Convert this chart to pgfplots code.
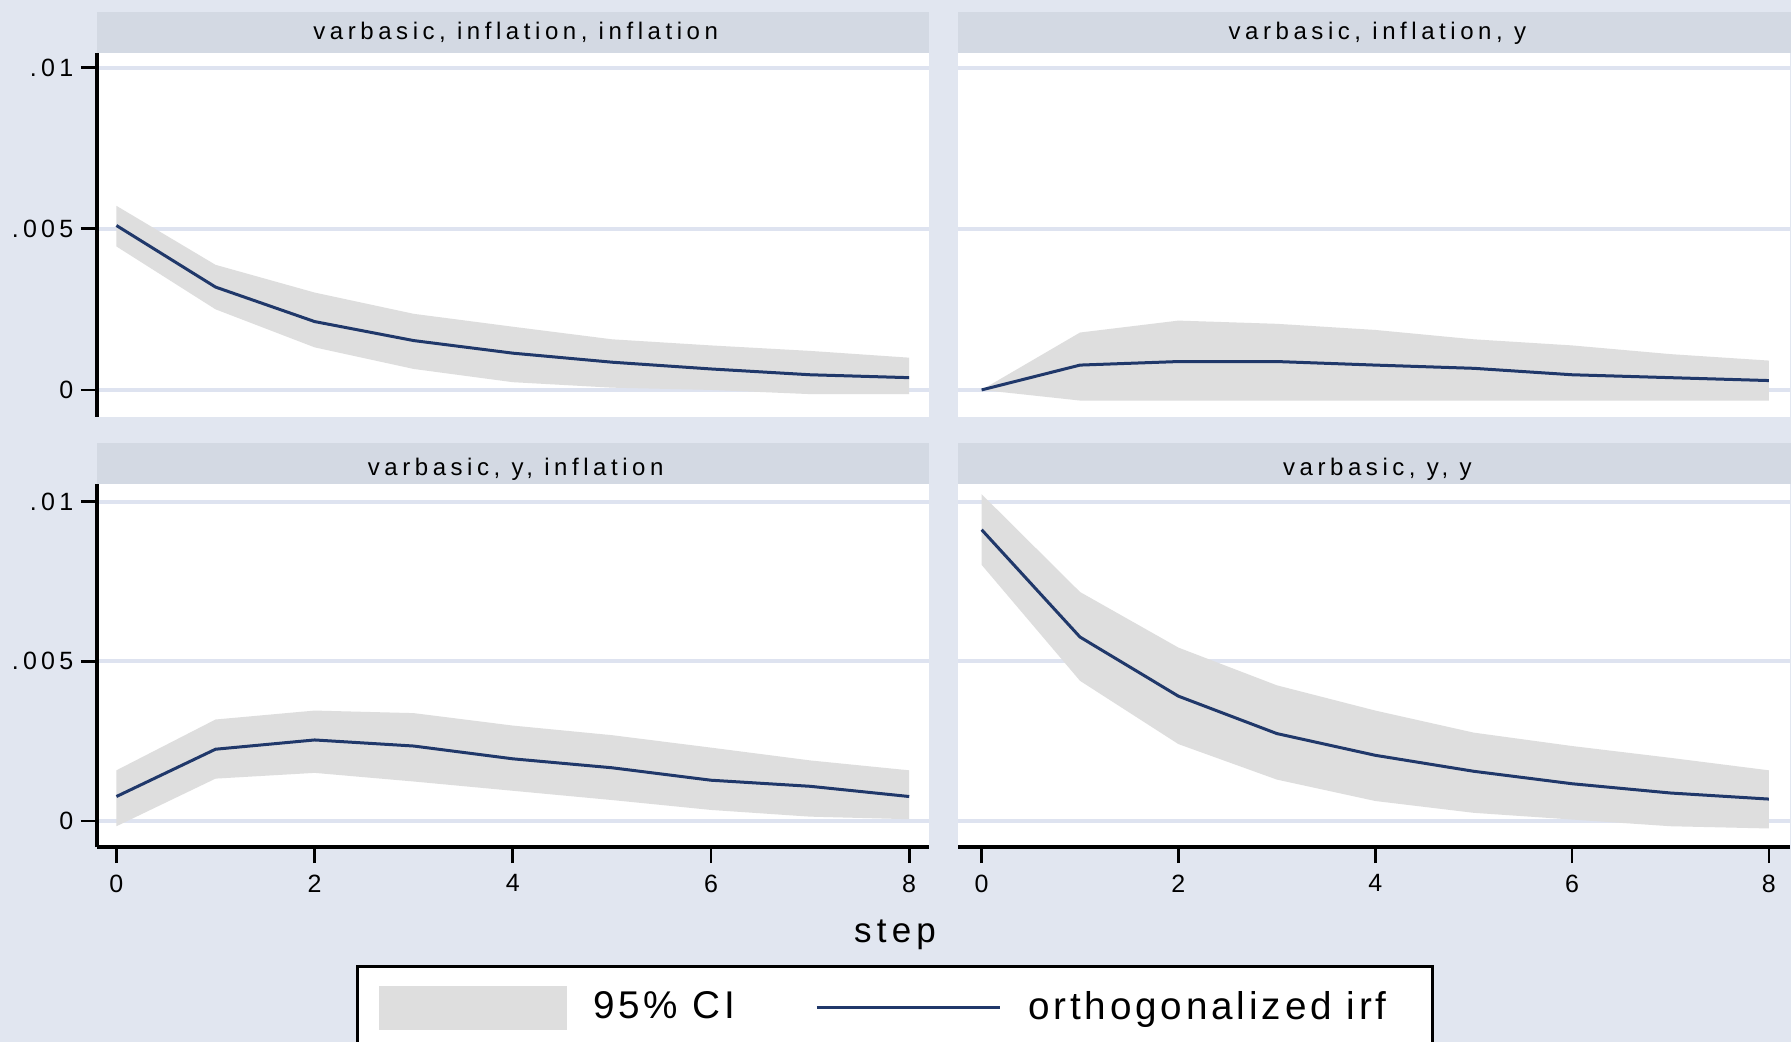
\documentclass[border=0pt]{standalone}
\usepackage{pgfplots}
\pgfplotsset{compat=1.18}
\usepackage{fontspec}
\setmainfont{Liberation Sans}
\newfontfamily\tickfont{Liberation Sans}[LetterSpace=17]
\newfontfamily\hdrfont{Liberation Sans}[LetterSpace=19]
\newfontfamily\stepfont{Liberation Sans}[LetterSpace=15]
\newfontfamily\legfont{Liberation Sans}[LetterSpace=10]
\definecolor{bgc}{RGB}{225,230,240}
\definecolor{hdrc}{RGB}{211,217,227}
\definecolor{gridc}{RGB}{222,227,240}
\definecolor{cic}{RGB}{222,222,222}
\definecolor{irfc}{RGB}{32,56,106}

\pgfplotsset{
  panel/.style={
    scale only axis, width=249.6pt,
    axis line style={draw=none},
    axis background/.style={fill=white},
    ytick={0,0.005,0.01}, yticklabels={0,.005,.01},
    scaled ticks=false,
    ymajorgrids, major grid style={gridc, line width=1.2pt},
    xtick={0,2,4,6,8}, xticklabels={0,2,4,6,8},
    tick align=outside, major tick length=4.8pt,
    tick style={black, line width=0.8pt},
    tick label style={font=\tickfont\fontsize{7.5}{9}\selectfont},
    yticklabel style={xshift=1.2pt},
    xtick pos=bottom, ytick pos=left,
    clip=false, no markers,
  },
  toppanel/.style={panel, height=109.2pt, ymin=-0.00084, ymax=0.01045, xtick=\empty},
  botpanel/.style={panel, height=108.9pt, ymin=-0.00081, ymax=0.01055},
  leftpanel/.style={xmin=-0.196, xmax=8.2},
  rightpanel/.style={xmin=-0.24, xmax=8.215, yticklabels={}, ytick style={draw=none}},
  ci/.style={fill=cic, draw=none, forget plot},
  irf/.style={irfc, line width=0.9pt, forget plot},
}

\begin{document}
\begin{tikzpicture}
\fill[bgc] (0pt,0pt) rectangle (537.3pt,-312.6pt);
% strip headers
\fill[hdrc] (29.1pt,-3.6pt) rectangle (278.7pt,-15.9pt);
\fill[hdrc] (287.4pt,-3.6pt) rectangle (537.3pt,-15.9pt);
\fill[hdrc] (29.1pt,-132.9pt) rectangle (278.7pt,-145.2pt);
\fill[hdrc] (287.4pt,-132.9pt) rectangle (537.3pt,-145.2pt);
\node[anchor=base, inner sep=0pt, font=\hdrfont\fontsize{7.2}{8}\selectfont] at (154.7pt,-12pt) {varbasic, inflation, inflation};
\node[anchor=base, inner sep=0pt, font=\hdrfont\fontsize{7.2}{8}\selectfont] at (413.2pt,-12pt) {varbasic, inflation, y};
\node[anchor=base, inner sep=0pt, font=\hdrfont\fontsize{7.2}{8}\selectfont] at (154.7pt,-142.5pt) {varbasic, y, inflation};
\node[anchor=base, inner sep=0pt, font=\hdrfont\fontsize{7.2}{8}\selectfont] at (413.2pt,-142.5pt) {varbasic, y, y};

% top-left: varbasic, inflation, inflation
\begin{axis}[toppanel, leftpanel, at={(29.1pt,-125.1pt)}, anchor=south west]
\addplot[ci] coordinates {(0,0.00571)(1,0.00388)(2,0.00302)(3,0.00236)(4,0.00196)(5,0.00157)(6,0.00138)(7,0.00121)(8,0.00100)
  (8,-0.00013)(7,-0.00013)(6,0.00000)(5,0.00007)(4,0.00024)(3,0.00065)(2,0.00132)(1,0.00250)(0,0.00445)} -- cycle;
\addplot[irf] coordinates {(0,0.00510)(1,0.00319)(2,0.00212)(3,0.00153)(4,0.00114)(5,0.00086)(6,0.00065)(7,0.00047)(8,0.00038)};
\draw[black, line width=1pt] (rel axis cs:0,0) -- (rel axis cs:0,1);
\end{axis}
% top-right: varbasic, inflation, y
\begin{axis}[toppanel, rightpanel, at={(287.4pt,-125.1pt)}, anchor=south west]
\addplot[ci] coordinates {(0,0)(1,0.00178)(2,0.00215)(3,0.00205)(4,0.00186)(5,0.00157)(6,0.00138)(7,0.00111)(8,0.00091)
  (8,-0.00033)(7,-0.00033)(6,-0.00033)(5,-0.00033)(4,-0.00033)(3,-0.00033)(2,-0.00033)(1,-0.00033)(0,0)} -- cycle;
\addplot[irf] coordinates {(0,0)(1,0.00077)(2,0.00088)(3,0.00088)(4,0.00077)(5,0.00067)(6,0.00047)(7,0.00038)(8,0.00029)};
\end{axis}
% bottom-left: varbasic, y, inflation
\begin{axis}[botpanel, leftpanel, at={(29.1pt,-254.1pt)}, anchor=south west,
  legend columns=2,
  legend style={at={(axis description cs:0.3113,-0.325)}, anchor=north west,
    draw=black, line width=0.9pt, fill=white, inner xsep=6.3pt, inner ysep=5.5pt,
    font=\legfont\fontsize{11.6}{13}\selectfont,
    /tikz/every odd column/.append style={column sep=6pt},
    /tikz/every even column/.append style={column sep=22pt}},
]
\addplot[ci] coordinates {(0,0.00159)(1,0.00318)(2,0.00346)(3,0.00338)(4,0.00299)(5,0.00269)(6,0.00230)(7,0.00190)(8,0.00159)
  (8,0.00006)(7,0.00014)(6,0.00035)(5,0.00066)(4,0.00095)(3,0.00124)(2,0.00151)(1,0.00133)(0,-0.00016)} -- cycle;
\addplot[irf] coordinates {(0,0.00077)(1,0.00225)(2,0.00254)(3,0.00235)(4,0.00195)(5,0.00167)(6,0.00128)(7,0.00109)(8,0.00077)};
\draw[black, line width=1pt] (rel axis cs:0,0) -- (rel axis cs:0,1);
\draw[black, line width=1pt] (rel axis cs:0,0) -- (rel axis cs:1,0);
\addlegendimage{legend image code/.code={\fill[cic] (0pt,-6.15pt) rectangle (55.5pt,6.15pt);}}
\addlegendentry{95\% CI}
\addlegendimage{legend image code/.code={\draw[irfc, line width=0.9pt] (0pt,0pt) -- (54.9pt,0pt);}}
\addlegendentry{orthogonalized irf\rule{5.5pt}{0pt}}
\end{axis}
% bottom-right: varbasic, y, y
\begin{axis}[botpanel, rightpanel, at={(287.4pt,-254.1pt)}, anchor=south west]
\addplot[ci] coordinates {(0,0.01023)(1,0.00717)(2,0.00543)(3,0.00425)(4,0.00346)(5,0.00277)(6,0.00235)(7,0.00198)(8,0.00159)
  (8,-0.00023)(7,-0.00016)(6,0.00005)(5,0.00026)(4,0.00063)(3,0.00130)(2,0.00241)(1,0.00439)(0,0.00802)} -- cycle;
\addplot[irf] coordinates {(0,0.00912)(1,0.00576)(2,0.00391)(3,0.00274)(4,0.00206)(5,0.00156)(6,0.00117)(7,0.00088)(8,0.00069)};
\draw[black, line width=1pt] (rel axis cs:0,0) -- (rel axis cs:1,0);
\end{axis}

\node[font=\stepfont\fontsize{10.5}{12}\selectfont] at (268.5pt,-280.4pt) {step};
\pgfresetboundingbox
\path[use as bounding box] (0pt,0pt) rectangle (537.3pt,-312.6pt);
\end{tikzpicture}
\end{document}
